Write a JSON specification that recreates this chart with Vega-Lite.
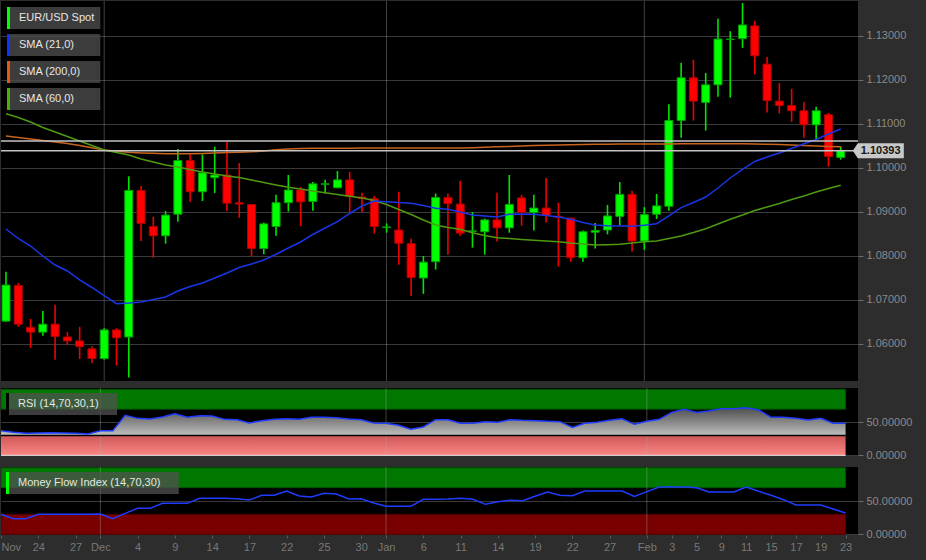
{
  "$schema": "https://vega.github.io/schema/vega-lite/v6.json",
  "background": "#2d2d2d",
  "padding": {"left": 0, "top": 0, "right": 30, "bottom": 20},
  "datasets": {
    "bars": [
      {"t":-8,"date":"2015-11-19","o":1.0652,"h":1.0764,"l":1.0650,"c":1.0734,"sma21":1.08614,"sma60":1.11234,"sma200":1.10727,"rsi":37.3,"mfi":30},
      {"t":-7,"date":"2015-11-20","o":1.0733,"h":1.0739,"l":1.0639,"c":1.0645,"sma21":1.08398,"sma60":1.11148,"sma200":1.10693,"rsi":34.8,"mfi":23.5},
      {"t":-6,"date":"2015-11-23","o":1.0638,"h":1.0657,"l":1.0591,"c":1.0627,"sma21":1.08227,"sma60":1.11045,"sma200":1.10659,"rsi":33.3,"mfi":23.5},
      {"t":-5,"date":"2015-11-24","o":1.0627,"h":1.0675,"l":1.0619,"c":1.0645,"sma21":1.08000,"sma60":1.10920,"sma200":1.10625,"rsi":33.8,"mfi":30},
      {"t":-4,"date":"2015-11-25","o":1.0645,"h":1.0689,"l":1.0564,"c":1.0617,"sma21":1.07795,"sma60":1.10818,"sma200":1.10591,"rsi":34.3,"mfi":30},
      {"t":-3,"date":"2015-11-26","o":1.0616,"h":1.0627,"l":1.0598,"c":1.0607,"sma21":1.07659,"sma60":1.10716,"sma200":1.10557,"rsi":33.8,"mfi":30},
      {"t":-2,"date":"2015-11-27","o":1.0607,"h":1.0639,"l":1.0566,"c":1.0594,"sma21":1.07455,"sma60":1.10614,"sma200":1.10511,"rsi":33.3,"mfi":30},
      {"t":-1,"date":"2015-11-30","o":1.0589,"h":1.0595,"l":1.0557,"c":1.0567,"sma21":1.07284,"sma60":1.10511,"sma200":1.10459,"rsi":32.3,"mfi":30},
      {"t":0,"date":"2015-12-01","o":1.0567,"h":1.0636,"l":1.0564,"c":1.0632,"sma21":1.07102,"sma60":1.10409,"sma200":1.10409,"rsi":37.3,"mfi":30.5},
      {"t":1,"date":"2015-12-02","o":1.0632,"h":1.0636,"l":1.0551,"c":1.0614,"sma21":1.06916,"sma60":1.10352,"sma200":1.10382,"rsi":37.3,"mfi":23.5},
      {"t":2,"date":"2015-12-03","o":1.0616,"h":1.0981,"l":1.0524,"c":1.0949,"sma21":1.06932,"sma60":1.10295,"sma200":1.10357,"rsi":60.6,"mfi":31.5},
      {"t":3,"date":"2015-12-04","o":1.0949,"h":1.0959,"l":1.0834,"c":1.0874,"sma21":1.06955,"sma60":1.10205,"sma200":1.10343,"rsi":56,"mfi":39},
      {"t":4,"date":"2015-12-07","o":1.0867,"h":1.0889,"l":1.0796,"c":1.0846,"sma21":1.07011,"sma60":1.10136,"sma200":1.10334,"rsi":55,"mfi":39},
      {"t":5,"date":"2015-12-08","o":1.0846,"h":1.0902,"l":1.0828,"c":1.0893,"sma21":1.07068,"sma60":1.10068,"sma200":1.10325,"rsi":58,"mfi":46.5},
      {"t":6,"date":"2015-12-09","o":1.0895,"h":1.1043,"l":1.0878,"c":1.1017,"sma21":1.07205,"sma60":1.10023,"sma200":1.10325,"rsi":63,"mfi":46.5},
      {"t":7,"date":"2015-12-10","o":1.1017,"h":1.1031,"l":1.0923,"c":1.0946,"sma21":1.07307,"sma60":1.09966,"sma200":1.10325,"rsi":57.6,"mfi":46.5},
      {"t":8,"date":"2015-12-11","o":1.0946,"h":1.1031,"l":1.0925,"c":1.0989,"sma21":1.07386,"sma60":1.09909,"sma200":1.10332,"rsi":60,"mfi":54},
      {"t":9,"date":"2015-12-14","o":1.0978,"h":1.1048,"l":1.0943,"c":1.0984,"sma21":1.07500,"sma60":1.09864,"sma200":1.10341,"rsi":59.6,"mfi":54},
      {"t":10,"date":"2015-12-15","o":1.0984,"h":1.1060,"l":1.0902,"c":1.0920,"sma21":1.07614,"sma60":1.09818,"sma200":1.10350,"rsi":54.5,"mfi":54},
      {"t":11,"date":"2015-12-16","o":1.0921,"h":1.1011,"l":1.0887,"c":1.0918,"sma21":1.07739,"sma60":1.09784,"sma200":1.10357,"rsi":54,"mfi":53.5},
      {"t":12,"date":"2015-12-17","o":1.0917,"h":1.0918,"l":1.0800,"c":1.0817,"sma21":1.07818,"sma60":1.09727,"sma200":1.10368,"rsi":49,"mfi":51.5},
      {"t":13,"date":"2015-12-18","o":1.0817,"h":1.0876,"l":1.0804,"c":1.0873,"sma21":1.07909,"sma60":1.09670,"sma200":1.10386,"rsi":52.5,"mfi":58.5},
      {"t":14,"date":"2015-12-21","o":1.0867,"h":1.0939,"l":1.0846,"c":1.0921,"sma21":1.08039,"sma60":1.09614,"sma200":1.10414,"rsi":54.5,"mfi":58.5},
      {"t":15,"date":"2015-12-22","o":1.0921,"h":1.0984,"l":1.0901,"c":1.0950,"sma21":1.08182,"sma60":1.09561,"sma200":1.10430,"rsi":55.6,"mfi":65},
      {"t":16,"date":"2015-12-23","o":1.0950,"h":1.0957,"l":1.0868,"c":1.0923,"sma21":1.08318,"sma60":1.09523,"sma200":1.10441,"rsi":54.5,"mfi":57.5},
      {"t":17,"date":"2015-12-24","o":1.0924,"h":1.0968,"l":1.0903,"c":1.0964,"sma21":1.08489,"sma60":1.09477,"sma200":1.10448,"rsi":57.6,"mfi":56},
      {"t":18,"date":"2015-12-25","o":1.0963,"h":1.0973,"l":1.0942,"c":1.0964,"sma21":1.08636,"sma60":1.09439,"sma200":1.10450,"rsi":57.6,"mfi":61.5},
      {"t":19,"date":"2015-12-28","o":1.0955,"h":1.0993,"l":1.0954,"c":1.0973,"sma21":1.08780,"sma60":1.09398,"sma200":1.10450,"rsi":57,"mfi":60.5},
      {"t":20,"date":"2015-12-29","o":1.0973,"h":1.0991,"l":1.0900,"c":1.0935,"sma21":1.08966,"sma60":1.09357,"sma200":1.10451,"rsi":55,"mfi":53},
      {"t":21,"date":"2015-12-30","o":1.0934,"h":1.0944,"l":1.0900,"c":1.0931,"sma21":1.09136,"sma60":1.09318,"sma200":1.10452,"rsi":54,"mfi":53.5},
      {"t":22,"date":"2015-12-31","o":1.0930,"h":1.0936,"l":1.0851,"c":1.0867,"sma21":1.09250,"sma60":1.09261,"sma200":1.10452,"rsi":49,"mfi":47},
      {"t":23,"date":"2016-01-01","o":1.0865,"h":1.0874,"l":1.0853,"c":1.0866,"sma21":1.09234,"sma60":1.09170,"sma200":1.10453,"rsi":48.5,"mfi":42},
      {"t":24,"date":"2016-01-04","o":1.0859,"h":1.0946,"l":1.0780,"c":1.0829,"sma21":1.09216,"sma60":1.09057,"sma200":1.10453,"rsi":45.5,"mfi":42},
      {"t":25,"date":"2016-01-05","o":1.0828,"h":1.0839,"l":1.0709,"c":1.0751,"sma21":1.09198,"sma60":1.08943,"sma200":1.10454,"rsi":39.4,"mfi":42},
      {"t":26,"date":"2016-01-06","o":1.0750,"h":1.0800,"l":1.0714,"c":1.0786,"sma21":1.09148,"sma60":1.08818,"sma200":1.10454,"rsi":43,"mfi":52.5},
      {"t":27,"date":"2016-01-07","o":1.0787,"h":1.0942,"l":1.0769,"c":1.0933,"sma21":1.09084,"sma60":1.08705,"sma200":1.10455,"rsi":54,"mfi":52.5},
      {"t":28,"date":"2016-01-08","o":1.0933,"h":1.0942,"l":1.0803,"c":1.0919,"sma21":1.09061,"sma60":1.08648,"sma200":1.10455,"rsi":54,"mfi":53},
      {"t":29,"date":"2016-01-11","o":1.0918,"h":1.0971,"l":1.0846,"c":1.0852,"sma21":1.09000,"sma60":1.08607,"sma200":1.10455,"rsi":48.5,"mfi":54},
      {"t":30,"date":"2016-01-12","o":1.0856,"h":1.0900,"l":1.0819,"c":1.0857,"sma21":1.08932,"sma60":1.08530,"sma200":1.10461,"rsi":48.5,"mfi":52.5},
      {"t":31,"date":"2016-01-13","o":1.0855,"h":1.0885,"l":1.0803,"c":1.0882,"sma21":1.08909,"sma60":1.08466,"sma200":1.10470,"rsi":51,"mfi":45},
      {"t":32,"date":"2016-01-14","o":1.0882,"h":1.0944,"l":1.0833,"c":1.0864,"sma21":1.08886,"sma60":1.08416,"sma200":1.10482,"rsi":50,"mfi":49},
      {"t":33,"date":"2016-01-15","o":1.0864,"h":1.0984,"l":1.0853,"c":1.0917,"sma21":1.08948,"sma60":1.08398,"sma200":1.10491,"rsi":54,"mfi":51},
      {"t":34,"date":"2016-01-18","o":1.0932,"h":1.0939,"l":1.0869,"c":1.0899,"sma21":1.08955,"sma60":1.08375,"sma200":1.10500,"rsi":53,"mfi":50.5},
      {"t":35,"date":"2016-01-19","o":1.0899,"h":1.0939,"l":1.0858,"c":1.0909,"sma21":1.08948,"sma60":1.08357,"sma200":1.10509,"rsi":52.5,"mfi":57},
      {"t":36,"date":"2016-01-20","o":1.0909,"h":1.0977,"l":1.0876,"c":1.0892,"sma21":1.08920,"sma60":1.08341,"sma200":1.10516,"rsi":51.5,"mfi":63.5},
      {"t":37,"date":"2016-01-21","o":1.0890,"h":1.0921,"l":1.0776,"c":1.0888,"sma21":1.08886,"sma60":1.08325,"sma200":1.10523,"rsi":51,"mfi":58.5},
      {"t":38,"date":"2016-01-22","o":1.0886,"h":1.0887,"l":1.0787,"c":1.0796,"sma21":1.08834,"sma60":1.08295,"sma200":1.10530,"rsi":42.4,"mfi":58},
      {"t":39,"date":"2016-01-25","o":1.0796,"h":1.0858,"l":1.0787,"c":1.0855,"sma21":1.08761,"sma60":1.08273,"sma200":1.10534,"rsi":48.5,"mfi":65},
      {"t":40,"date":"2016-01-26","o":1.0854,"h":1.0875,"l":1.0817,"c":1.0858,"sma21":1.08705,"sma60":1.08250,"sma200":1.10539,"rsi":50,"mfi":65},
      {"t":41,"date":"2016-01-27","o":1.0859,"h":1.0916,"l":1.0849,"c":1.0891,"sma21":1.08689,"sma60":1.08257,"sma200":1.10541,"rsi":53,"mfi":65},
      {"t":42,"date":"2016-01-28","o":1.0890,"h":1.0968,"l":1.0869,"c":1.0940,"sma21":1.08682,"sma60":1.08266,"sma200":1.10543,"rsi":55.5,"mfi":65},
      {"t":43,"date":"2016-01-29","o":1.0940,"h":1.0948,"l":1.0810,"c":1.0834,"sma21":1.08675,"sma60":1.08295,"sma200":1.10545,"rsi":47,"mfi":57},
      {"t":44,"date":"2016-02-01","o":1.0834,"h":1.0911,"l":1.0814,"c":1.0894,"sma21":1.08698,"sma60":1.08325,"sma200":1.10545,"rsi":51.5,"mfi":64},
      {"t":45,"date":"2016-02-02","o":1.0895,"h":1.0941,"l":1.0884,"c":1.0914,"sma21":1.08734,"sma60":1.08341,"sma200":1.10546,"rsi":54.5,"mfi":71},
      {"t":46,"date":"2016-02-03","o":1.0913,"h":1.1145,"l":1.0903,"c":1.1108,"sma21":1.08909,"sma60":1.08398,"sma200":1.10547,"rsi":65,"mfi":71},
      {"t":47,"date":"2016-02-04","o":1.1108,"h":1.1239,"l":1.1069,"c":1.1205,"sma21":1.09098,"sma60":1.08455,"sma200":1.10548,"rsi":69.6,"mfi":71},
      {"t":48,"date":"2016-02-05","o":1.1205,"h":1.1246,"l":1.1108,"c":1.1152,"sma21":1.09216,"sma60":1.08534,"sma200":1.10549,"rsi":65,"mfi":70},
      {"t":49,"date":"2016-02-08","o":1.1149,"h":1.1216,"l":1.1085,"c":1.1189,"sma21":1.09341,"sma60":1.08620,"sma200":1.10550,"rsi":67,"mfi":63.5},
      {"t":50,"date":"2016-02-09","o":1.1189,"h":1.1339,"l":1.1162,"c":1.1293,"sma21":1.09545,"sma60":1.08727,"sma200":1.10550,"rsi":70.6,"mfi":63.5},
      {"t":51,"date":"2016-02-10","o":1.1292,"h":1.1311,"l":1.1160,"c":1.1293,"sma21":1.09773,"sma60":1.08834,"sma200":1.10550,"rsi":70.6,"mfi":63.5},
      {"t":52,"date":"2016-02-11","o":1.1294,"h":1.1375,"l":1.1273,"c":1.1325,"sma21":1.09966,"sma60":1.08932,"sma200":1.10548,"rsi":72,"mfi":71},
      {"t":53,"date":"2016-02-12","o":1.1323,"h":1.1334,"l":1.1213,"c":1.1255,"sma21":1.10148,"sma60":1.09034,"sma200":1.10545,"rsi":68.7,"mfi":64.5},
      {"t":54,"date":"2016-02-15","o":1.1236,"h":1.1252,"l":1.1126,"c":1.1153,"sma21":1.10250,"sma60":1.09114,"sma200":1.10539,"rsi":57.6,"mfi":58.5},
      {"t":55,"date":"2016-02-16","o":1.1152,"h":1.1193,"l":1.1124,"c":1.1142,"sma21":1.10341,"sma60":1.09193,"sma200":1.10532,"rsi":57.6,"mfi":52},
      {"t":56,"date":"2016-02-17","o":1.1142,"h":1.1180,"l":1.1105,"c":1.1130,"sma21":1.10443,"sma60":1.09284,"sma200":1.10523,"rsi":56,"mfi":44},
      {"t":57,"date":"2016-02-18","o":1.1130,"h":1.1150,"l":1.1069,"c":1.1098,"sma21":1.10552,"sma60":1.09364,"sma200":1.10511,"rsi":53.5,"mfi":44},
      {"t":58,"date":"2016-02-19","o":1.1098,"h":1.1139,"l":1.1065,"c":1.1130,"sma21":1.10648,"sma60":1.09455,"sma200":1.10500,"rsi":56,"mfi":44},
      {"t":59,"date":"2016-02-22","o":1.1121,"h":1.1125,"l":1.1003,"c":1.1026,"sma21":1.10773,"sma60":1.09534,"sma200":1.10491,"rsi":48.5,"mfi":38},
      {"t":60,"date":"2016-02-23","o":1.1024,"h":1.1049,"l":1.1019,"c":1.10393,"sma21":1.10886,"sma60":1.09607,"sma200":1.10482,"rsi":48.5,"mfi":32}
    ],
    "months": [{"t":0,"month":"Dec"},{"t":23,"month":"Jan"},{"t":44,"month":"Feb"}],
    "levels": [{"lv":1.10614},{"lv":1.10393}],
    "last": [{"t":60,"c":1.10393}]
  },
  "resolve": {"scale": {"color": "independent"}, "legend": {"color": "independent"}},
  "spacing": 5,
  "vconcat": [
    {
      "width": 857,
      "height": 380,
      "data": {"name": "bars"},
      "layer": [
        {
          "data": {"name": "months"},
          "mark": {"type": "rule", "color": "#aaaaaa", "opacity": 0.38, "strokeWidth": 1},
          "encoding": {
            "x": {"field": "t", "type": "quantitative", "scale": {"domain": [-8, 61], "nice": false, "zero": false}, "axis": null}
          }
        },
        {
          "mark": {"type": "rule", "strokeWidth": 1.6, "clip": true},
          "encoding": {
            "x": {"field": "t", "type": "quantitative", "scale": {"domain": [-8, 61], "nice": false, "zero": false}, "axis": null},
            "y": {"field": "l", "type": "quantitative", "title": null, "scale": {"domain": [1.05159, 1.13795], "nice": false, "zero": false},
                  "axis": {"orient": "right", "values": [1.06, 1.07, 1.08, 1.09, 1.10, 1.11, 1.12, 1.13], "tickCount": 50, "format": ".5f", "grid": true, "gridColor": "#3a3a3a", "domain": false, "tickSize": 5, "tickColor": "#6a6a6a", "labelPadding": 3, "labelColor": "#8a8a8a", "labelFontSize": 11, "labelFont": "Liberation Sans", "title": null}},
            "y2": {"field": "h"},
            "color": {"condition": {"test": "datum.c >= datum.o", "value": "#00e600"}, "value": "#ee0000"}
          }
        },
        {
          "mark": {"type": "bar", "width": 8, "strokeWidth": 1, "clip": true},
          "encoding": {
            "x": {"field": "t", "type": "quantitative", "axis": null},
            "y": {"field": "o", "type": "quantitative", "title": null},
            "y2": {"field": "c"},
            "fill": {"condition": {"test": "datum.c >= datum.o", "value": "#00ff00"}, "value": "#ff0000"},
            "stroke": {"condition": {"test": "datum.c >= datum.o", "value": "#00a000"}, "value": "#b00000"}
          }
        },
        {
          "mark": {"type": "line", "color": "#c8641e", "strokeWidth": 1.5, "clip": true},
          "encoding": {
            "x": {"field": "t", "type": "quantitative", "axis": null},
            "y": {"field": "sma200", "type": "quantitative", "title": null}
          }
        },
        {
          "mark": {"type": "line", "color": "#4f9a10", "strokeWidth": 1.5, "clip": true},
          "encoding": {
            "x": {"field": "t", "type": "quantitative", "axis": null},
            "y": {"field": "sma60", "type": "quantitative", "title": null}
          }
        },
        {
          "mark": {"type": "line", "color": "#1a35e6", "strokeWidth": 1.5, "clip": true},
          "encoding": {
            "x": {"field": "t", "type": "quantitative", "axis": null},
            "y": {"field": "sma21", "type": "quantitative", "title": null}
          }
        },
        {
          "data": {"name": "levels"},
          "mark": {"type": "rule", "color": "#c4c4c4", "strokeWidth": 1.5},
          "encoding": {
            "y": {"field": "lv", "type": "quantitative", "title": null}
          }
        },
        {
          "data": {"name": "last"},
          "mark": {"type": "point", "shape": "M-1,0L-0.804,-0.294H1V0.294H-0.804Z", "size": 2601, "filled": true, "color": "#c8c8c8", "opacity": 1},
          "encoding": {
            "x": {"datum": 63.06, "type": "quantitative", "axis": null},
            "y": {"field": "c", "type": "quantitative", "title": null}
          }
        },
        {
          "data": {"name": "last"},
          "mark": {"type": "text", "color": "#151515", "fontSize": 11, "fontWeight": "bold", "font": "Liberation Sans", "align": "center", "baseline": "middle"},
          "encoding": {
            "x": {"datum": 63.25, "type": "quantitative", "axis": null},
            "y": {"field": "c", "type": "quantitative", "title": null},
            "text": {"field": "c", "type": "quantitative", "format": ".5f"}
          }
        },
        {
          "data": {"values": [{}]},
          "mark": {"type": "square", "opacity": 0},
          "encoding": {
            "x": {"datum": 0, "type": "quantitative", "axis": null},
            "y": {"datum": 1.1, "type": "quantitative", "title": null},
            "color": {
              "datum": "EUR/USD Spot", "type": "nominal",
              "scale": {"domain": ["EUR/USD Spot", "SMA (21,0)", "SMA (200,0)", "SMA (60,0)"], "range": ["#00ff00", "#1030ff", "#e05a10", "#48b000"]},
              "legend": {
                "title": null, "orient": "top-left", "offset": 6, "padding": 0,
                "symbolType": "M-1,-1H-0.727V1H-1Z", "symbolSize": 484, "symbolStrokeWidth": 0, "symbolOpacity": 1,
                "labelColor": "#e6e6e6", "labelFont": "Liberation Sans", "labelFontSize": 11, "labelOffset": -10,
                "rowPadding": 5, "labelLimit": 300,
                "labelExpr": "datum.label + '  \u200b'",
                "encode": {"entries": {"update": {"fill": {"value": "#505050"}, "fillOpacity": {"value": 0.75}, "height": {"value": 22}}}}
              }
            }
          }
        }
      ]
    },
    {
      "spacing": 5,
      "resolve": {"scale": {"color": "independent"}, "legend": {"color": "independent"}},
      "vconcat": [
        {
          "width": 857,
          "height": 68,
          "data": {"name": "bars"},
          "layer": [
            {
              "data": {"values": [{}]},
              "mark": {"type": "rect", "fill": "#007800", "stroke": "#005000", "strokeWidth": 1, "clip": true},
              "encoding": {
                "x": {"datum": -8, "type": "quantitative", "scale": {"domain": [-8, 61], "nice": false, "zero": false}, "axis": null},
                "x2": {"datum": 60},
                "y": {"datum": 70, "type": "quantitative", "title": null, "scale": {"domain": [-1, 102], "nice": false, "zero": false},
                      "axis": {"orient": "right", "values": [0, 50], "format": ".5f", "grid": true, "gridColor": "#3a3a3a", "domain": false, "tickSize": 5, "tickColor": "#6a6a6a", "labelPadding": 3, "labelColor": "#8a8a8a", "labelFontSize": 11, "labelFont": "Liberation Sans", "title": null}},
                "y2": {"datum": 100}
              }
            },
            {
              "data": {"values": [{}]},
              "mark": {"type": "rect", "clip": true, "fill": {"gradient": "linear", "x1": 0, "y1": 0, "x2": 0, "y2": 1, "stops": [{"offset": 0, "color": "#cf5656"}, {"offset": 1, "color": "#fb8686"}]}},
              "encoding": {
                "x": {"datum": -8, "type": "quantitative", "axis": null},
                "x2": {"datum": 60},
                "y": {"datum": 0, "type": "quantitative", "title": null},
                "y2": {"datum": 30}
              }
            },
            {
              "data": {"name": "months"},
              "mark": {"type": "rule", "color": "#aaaaaa", "opacity": 0.38, "strokeWidth": 1},
              "encoding": {"x": {"field": "t", "type": "quantitative", "axis": null}}
            },
            {
              "mark": {"type": "area", "clip": true, "fill": {"gradient": "linear", "x1": 0, "y1": 0, "x2": 0, "y2": 1, "stops": [{"offset": 0, "color": "#4e4e4e"}, {"offset": 1, "color": "#c0c0c0"}]}},
              "encoding": {
                "x": {"field": "t", "type": "quantitative", "axis": null},
                "y": {"field": "rsi", "type": "quantitative", "title": null},
                "y2": {"datum": 30}
              }
            },
            {
              "data": {"values": [{}]},
              "mark": {"type": "rule", "color": "#000000", "strokeWidth": 1.5},
              "encoding": {
                "x": {"datum": -8, "type": "quantitative", "axis": null},
                "x2": {"datum": 60},
                "y": {"datum": 30, "type": "quantitative", "title": null}
              }
            },
            {
              "data": {"values": [{}]},
              "mark": {"type": "rule", "color": "#e8e8e8", "strokeWidth": 1},
              "encoding": {
                "x": {"datum": -8, "type": "quantitative", "axis": null},
                "x2": {"datum": 60},
                "y": {"datum": 0, "type": "quantitative", "title": null}
              }
            },
            {
              "mark": {"type": "line", "color": "#1f3cff", "strokeWidth": 1.5, "clip": true},
              "encoding": {
                "x": {"field": "t", "type": "quantitative", "axis": null},
                "y": {"field": "rsi", "type": "quantitative", "title": null}
              }
            },
            {
              "data": {"values": [{}]},
              "mark": {"type": "square", "opacity": 0},
              "encoding": {
                "x": {"datum": 0, "type": "quantitative", "axis": null},
                "y": {"datum": 50, "type": "quantitative", "title": null},
                "color": {
                  "datum": "RSI (14,70,30,1)", "type": "nominal",
                  "scale": {"domain": ["RSI (14,70,30,1)"], "range": ["#000000"]},
                  "legend": {
                    "title": null, "orient": "top-left", "offset": 5, "padding": 0,
                    "symbolType": "M-1,-1H-0.727V1H-1Z", "symbolSize": 484, "symbolStrokeWidth": 0, "symbolOpacity": 1,
                    "labelColor": "#e6e6e6", "labelFont": "Liberation Sans", "labelFontSize": 11, "labelOffset": -10, "labelLimit": 300,
                    "labelExpr": "datum.label + '      \u200b'",
                    "encode": {"entries": {"update": {"fill": {"value": "#505050"}, "fillOpacity": {"value": 0.75}, "height": {"value": 22}}}}
                  }
                }
              }
            }
          ]
        },
        {
          "width": 857,
          "height": 68,
          "data": {"name": "bars"},
          "layer": [
            {
              "data": {"values": [{}]},
              "mark": {"type": "rect", "fill": "#007800", "stroke": "#005000", "strokeWidth": 1, "clip": true},
              "encoding": {
                "x": {"datum": -8, "type": "quantitative", "title": null, "scale": {"domain": [-8, 61], "nice": false, "zero": false},
                      "axis": {"orient": "bottom", "values": [-8,-5,-2,0,3,6,9,12,15,18,21,23,26,29,32,35,38,41,44,46,48,50,52,54,56,58,60], "tickCount": 100,
                               "labelExpr": "['Nov','','','24','','','27','','Dec','','','4','','','9','','','14','','','17','','','22','','','25','','','30','','Jan','','','6','','','11','','','14','','','19','','','22','','','27','','','Feb','','3','','5','','9','','11','','15','','17','','19','','23'][datum.value+8]",
                               "grid": false, "domain": false, "tickSize": 3, "tickColor": "#5a5a5a", "labelPadding": 3, "labelColor": "#787878", "labelFontSize": 11, "labelFont": "Liberation Sans", "labelFlush": true, "labelOverlap": false, "labelSeparation": 0, "title": null}},
                "x2": {"datum": 60},
                "y": {"datum": 70, "type": "quantitative", "title": null, "scale": {"domain": [-1, 101], "nice": false, "zero": false},
                      "axis": {"orient": "right", "values": [0, 50], "format": ".5f", "grid": true, "gridColor": "#3a3a3a", "domain": false, "tickSize": 5, "tickColor": "#6a6a6a", "labelPadding": 3, "labelColor": "#8a8a8a", "labelFontSize": 11, "labelFont": "Liberation Sans", "title": null}},
                "y2": {"datum": 100}
              }
            },
            {
              "data": {"values": [{}]},
              "mark": {"type": "rect", "fill": "#780000", "stroke": "#500000", "strokeWidth": 1, "clip": true},
              "encoding": {
                "x": {"datum": -8, "type": "quantitative", "title": null},
                "x2": {"datum": 60},
                "y": {"datum": 0, "type": "quantitative", "title": null},
                "y2": {"datum": 30}
              }
            },
            {
              "data": {"name": "months"},
              "mark": {"type": "rule", "color": "#aaaaaa", "opacity": 0.38, "strokeWidth": 1},
              "encoding": {"x": {"field": "t", "type": "quantitative", "title": null}}
            },
            {
              "mark": {"type": "line", "color": "#1f3cff", "strokeWidth": 1.5, "clip": true},
              "encoding": {
                "x": {"field": "t", "type": "quantitative", "title": null},
                "y": {"field": "mfi", "type": "quantitative", "title": null}
              }
            },
            {
              "data": {"values": [{}]},
              "mark": {"type": "square", "opacity": 0},
              "encoding": {
                "x": {"datum": 0, "type": "quantitative", "title": null},
                "y": {"datum": 50, "type": "quantitative", "title": null},
                "color": {
                  "datum": "Money Flow Index (14,70,30)", "type": "nominal",
                  "scale": {"domain": ["Money Flow Index (14,70,30)"], "range": ["#00ff00"]},
                  "legend": {
                    "title": null, "orient": "top-left", "offset": 5, "padding": 0,
                    "symbolType": "M-1,-1H-0.727V1H-1Z", "symbolSize": 484, "symbolStrokeWidth": 0, "symbolOpacity": 1,
                    "labelColor": "#e6e6e6", "labelFont": "Liberation Sans", "labelFontSize": 11, "labelOffset": -10, "labelLimit": 300,
                    "labelExpr": "datum.label + '      \u200b'",
                    "encode": {"entries": {"update": {"fill": {"value": "#505050"}, "fillOpacity": {"value": 0.75}, "height": {"value": 22}}}}
                  }
                }
              }
            }
          ]
        }
      ]
    }
  ],
  "config": {
    "font": "Liberation Sans",
    "view": {"stroke": null, "fill": "#000000"},
    "axis": {"labelOverlap": false}
  }
}
